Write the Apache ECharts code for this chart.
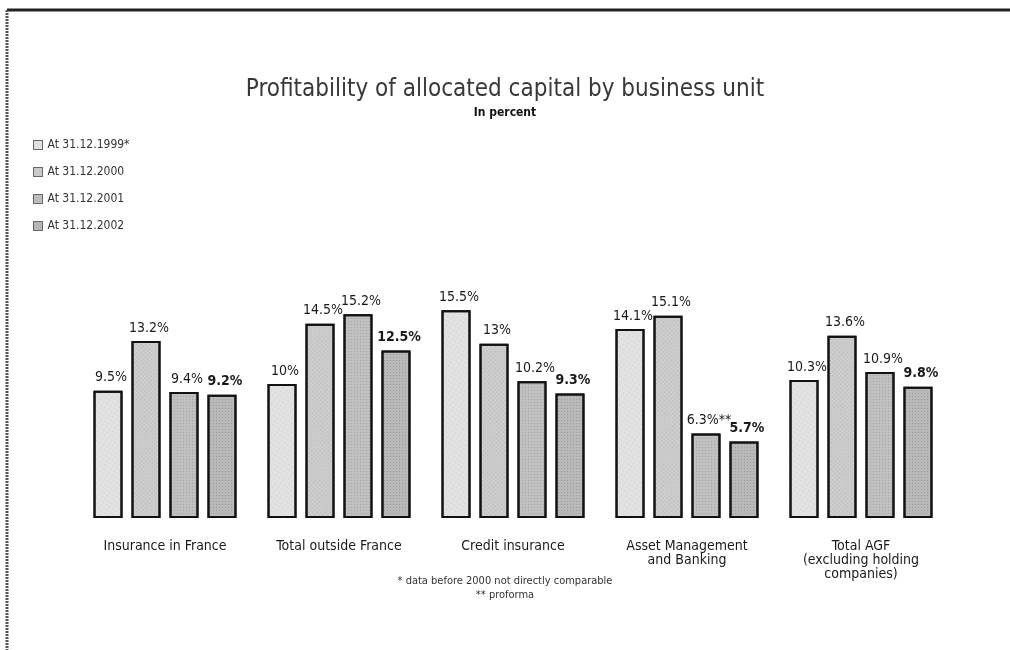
<!DOCTYPE html>
<html>
<head>
<meta charset="utf-8">
<style>
  html, body { margin: 0; padding: 0; background: #fff; }
  #chart { width: 1010px; height: 650px; }
</style>
<script src="https://cdn.jsdelivr.net/npm/echarts@6/dist/echarts.min.js"></script>
</head>
<body>
<div id="chart"></div>
<script>
// Business units along the x axis
const categories = [
  'Insurance in France',
  'Total outside France',
  'Credit insurance',
  'Asset Management\nand Banking',
  'Total AGF\n(excluding holding\ncompanies)'
];

// Series names (year-end positions)
const seriesNames = ['At 31.12.1999*', 'At 31.12.2000', 'At 31.12.2001', 'At 31.12.2002'];

// Profitability of allocated capital, in percent
const values1999 = [9.5, 10, 15.5, 14.1, 10.3];
const values2000 = [13.2, 14.5, 13, 15.1, 13.6];
const values2001 = [9.4, 15.2, 10.2, 6.3, 10.9];
const values2002 = [9.2, 12.5, 9.3, 5.7, 9.8];

// Extra marker appended to a label (2001 Asset Management figure is proforma)
const labelSuffix2001 = ['', '', '', '**', ''];

const FONT = '"Liberation Sans Narrow", "DejaVu Sans Condensed", "Roboto Condensed", "Liberation Sans", sans-serif';

const fills = ['#e2e2e2', '#cdcdcd', '#c0c0c0', '#b9b9b9'];
const decals = [
  { symbol: 'rect', symbolSize: 0.6, color: 'rgba(0,0,0,0.4)', dashArrayX: [1, 3], dashArrayY: [1, 3], rotation: 0.6 },
  { symbol: 'rect', symbolSize: 0.65, color: 'rgba(0,0,0,0.42)', dashArrayX: [1, 2], dashArrayY: [1, 2], rotation: 0.8 },
  { symbol: 'rect', symbolSize: 0.7, color: 'rgba(0,0,0,0.4)', dashArrayX: [1, 2], dashArrayY: [1, 2], rotation: 0 },
  { symbol: 'rect', symbolSize: 0.7, color: 'rgba(0,0,0,0.45)', dashArrayX: [1, 1.5], dashArrayY: [1, 2], rotation: 0 }
];

const allValues = [values1999, values2000, values2001, values2002];

function makeSeries(idx) {
  const vals = allValues[idx];
  return {
    name: seriesNames[idx],
    type: 'bar',
    barWidth: 29,
    barGap: '31%',
    data: vals.map((v, i) => ({
      value: v,
      suffix: idx === 2 ? labelSuffix2001[i] : ''
    })),
    itemStyle: {
      color: fills[idx],
      borderColor: '#111',
      borderWidth: 2,
      decal: decals[idx]
    },
    label: {
      show: true,
      position: 'top',
      distance: 6,
      offset: [3, 0],
      fontFamily: FONT,
      fontSize: 14,
      fontWeight: idx === 3 ? 'bold' : 'normal',
      color: '#1a1a1a',
      formatter: p => p.value + '%' + (p.data.suffix || '')
    }
  };
}

const chart = echarts.init(document.getElementById('chart'), null, { renderer: 'canvas' });

chart.setOption({
  animation: false,
  backgroundColor: '#fff',
  title: {
    text: 'Profitability of allocated capital by business unit',
    subtext: 'In percent',
    left: 'center',
    top: 73,
    itemGap: 5,
    textStyle: { fontFamily: FONT, fontSize: 24, fontWeight: 'normal', color: '#383838' },
    subtextStyle: { fontFamily: FONT, fontSize: 12, fontWeight: 'bold', color: '#111' }
  },
  legend: {
    orient: 'vertical',
    left: 28,
    top: 134,
    itemWidth: 9,
    itemHeight: 9,
    itemGap: 15,
    icon: 'rect',
    itemStyle: { borderWidth: 1, borderColor: '#666' },
    textStyle: { fontFamily: FONT, fontSize: 12, color: '#333' },
    data: seriesNames
  },
  grid: { left: 78, right: 62, top: 250, bottom: 132 },
  xAxis: {
    type: 'category',
    data: categories,
    axisLine: { show: false },
    axisTick: { show: false },
    axisLabel: {
      margin: 21,
      fontFamily: FONT,
      fontSize: 14,
      lineHeight: 14,
      color: '#1a1a1a',
      interval: 0
    }
  },
  yAxis: {
    type: 'value',
    min: 0,
    max: 20,
    show: false,
    splitLine: { show: false }
  },
  series: [0, 1, 2, 3].map(makeSeries),
  graphic: [
    // page frame: top rule and left rule
    { type: 'line', shape: { x1: 7, y1: 10, x2: 1010, y2: 10 }, style: { stroke: '#222', lineWidth: 3 } },
    { type: 'line', shape: { x1: 7, y1: 10, x2: 7, y2: 650 }, style: { stroke: '#555', lineWidth: 3, lineDash: [2, 1] } },
    // footnotes
    {
      type: 'text', left: 'center', top: 576,
      style: { text: '* data before 2000 not directly comparable', fontFamily: FONT, fontSize: 11, fill: '#333', textAlign: 'center' }
    },
    {
      type: 'text', left: 'center', top: 590,
      style: { text: '** proforma', fontFamily: FONT, fontSize: 11, fill: '#333', textAlign: 'center' }
    }
  ]
});
</script>
</body>
</html>
